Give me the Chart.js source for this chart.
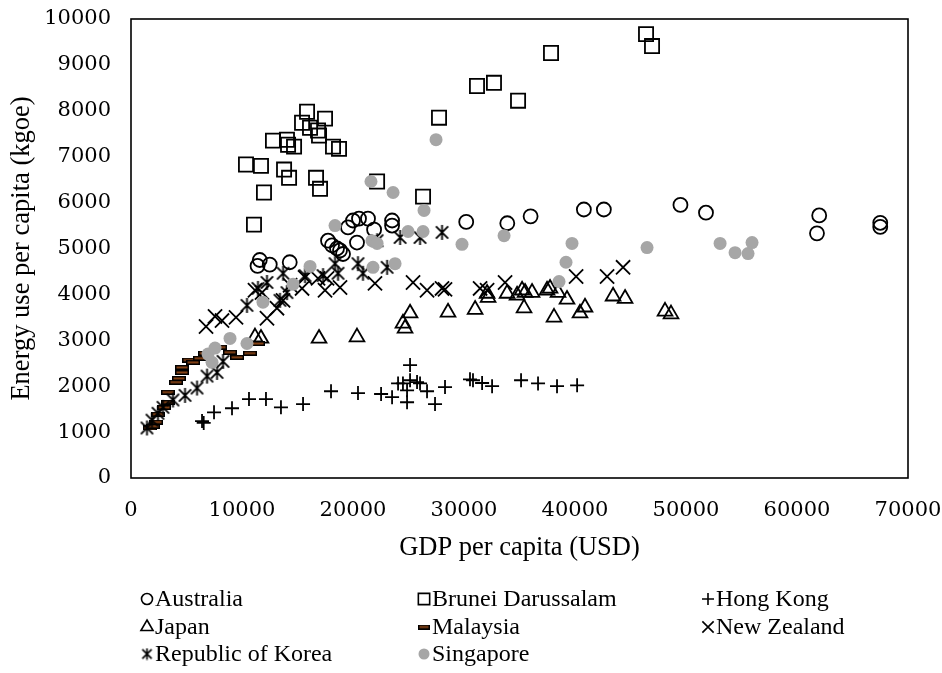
<!DOCTYPE html>
<html>
<head>
<meta charset="utf-8">
<script src="https://cdn.jsdelivr.net/npm/chart.js@4.4.0/dist/chart.umd.min.js"></script>
<style>
    html, body { margin: 0; padding: 0; background: #fff; }
</style>
</head>
<body>
<canvas id="energyChart" width="942" height="673"></canvas>
<script>
// Series names in legend order
const seriesNames = ['Australia', 'Brunei Darussalam', 'Hong Kong', 'Japan', 'Malaysia', 'New Zealand', 'Republic of Korea', 'Singapore'];

// GDP per capita (USD) / Energy use per capita (kgoe)
const australiaGdp = [11400, 11600, 12500, 14300, 17750, 18110, 18560, 18830, 19100, 20360, 19550, 20000, 20540, 21350, 21900, 23520, 23520, 30200, 33900, 36000, 40800, 42600, 49500, 51800, 62000, 61800, 67500, 67500];
const australiaEnergy = [4620, 4750, 4650, 4700, 5170, 5070, 5000, 4960, 4880, 5130, 5460, 5610, 5650, 5650, 5410, 5610, 5500, 5580, 5550, 5700, 5850, 5850, 5950, 5780, 5720, 5330, 5560, 5470];

const bruneiGdp = [10360, 11710, 11080, 11980, 12790, 14050, 14150, 14690, 13790, 14240, 15410, 15860, 16130, 16850, 16940, 17480, 16670, 17030, 18200, 18740, 22170, 26310, 27750, 31170, 32700, 34870, 37840, 46400, 46940];
const bruneiEnergy = [6830, 6800, 5520, 6220, 7350, 7370, 7260, 7220, 6720, 6540, 7740, 7980, 7630, 7570, 7460, 7830, 6540, 6300, 7220, 7170, 6460, 6130, 7850, 8540, 8610, 8220, 9260, 9670, 9410];

const hongKongGdp = [6400, 6550, 7480, 9100, 10630, 12160, 13510, 15500, 18020, 20450, 22530, 23520, 24060, 24500, 25140, 25140, 25770, 26040, 24870, 24870, 26670, 27390, 28290, 30540, 30810, 31630, 32530, 35140, 36670, 38380, 40190];
const hongKongEnergy = [1240, 1200, 1430, 1520, 1720, 1720, 1540, 1610, 1890, 1850, 1830, 1760, 2060, 2060, 2460, 2130, 2090, 2060, 1910, 1650, 1890, 1610, 1980, 2150, 2130, 2070, 2000, 2130, 2060, 2000, 2020];

const japanGdp = [11170, 11710, 16940, 20360, 24500, 24690, 25140, 28560, 31000, 32080, 32170, 33880, 34780, 35230, 35500, 36130, 35410, 37480, 37750, 38470, 39280, 38110, 40450, 40900, 43430, 44510, 48110, 48650];
const japanEnergy = [3070, 3040, 3040, 3070, 3370, 3260, 3590, 3610, 3670, 4020, 3930, 4020, 3980, 4090, 4040, 4040, 3700, 4090, 4130, 4040, 3890, 3500, 3590, 3720, 3960, 3910, 3630, 3570];

const malaysiaGdp = [1710, 1980, 2250, 2430, 2970, 3330, 3330, 4050, 4320, 4590, 4590, 5230, 5590, 6220, 6670, 8020, 8920, 9550, 10720, 11440];
const malaysiaEnergy = [1090, 1130, 1220, 1390, 1540, 1650, 1870, 2090, 2170, 2300, 2410, 2570, 2520, 2610, 2720, 2850, 2740, 2630, 2720, 2930];

const newZealandGdp = [6760, 7570, 8200, 9460, 11170, 11800, 12250, 13150, 13700, 14330, 15410, 15680, 16850, 17480, 17660, 18830, 21980, 25410, 26670, 28020, 28290, 31450, 32080, 33700, 40100, 42890, 44330];
const newZealandEnergy = [3300, 3520, 3430, 3500, 4090, 4040, 3480, 3700, 3870, 4200, 4130, 4370, 4350, 4090, 4350, 4150, 4240, 4260, 4090, 4130, 4110, 4130, 4090, 4260, 4390, 4390, 4590];

const koreaGdp = [1440, 1890, 2430, 2880, 3780, 4870, 5950, 6850, 7750, 8290, 10450, 11440, 12250, 13420, 14050, 13700, 15680, 17300, 18380, 18650, 20450, 20900, 23070, 22170, 24240, 26040, 28020];
const koreaEnergy = [1090, 1260, 1410, 1540, 1700, 1800, 1960, 2220, 2300, 2540, 3760, 4130, 4260, 3870, 4040, 4460, 4410, 4410, 4670, 4460, 4670, 4460, 4590, 5170, 5240, 5240, 5350];

const singaporeGdp = [6940, 7300, 7570, 8920, 10450, 11890, 14600, 16130, 18380, 21800, 21710, 22170, 21620, 23790, 23610, 24960, 26310, 26400, 27480, 29820, 33610, 38560, 39190, 39730, 46490, 53070, 54420, 55590, 55950];
const singaporeEnergy = [2700, 2520, 2830, 3040, 2930, 3830, 4220, 4610, 5500, 4590, 5170, 5110, 6460, 4670, 6220, 5370, 5370, 5830, 7370, 5090, 5280, 4280, 4700, 5110, 5020, 5110, 4910, 4890, 5130];

const TEXT_FONT = "'Liberation Serif', 'Times New Roman', serif";
const NUM_FONT = "'DejaVu Serif', serif";

// asterisk marker (x with a vertical bar) for Korea
function makeAsterisk(size, lw) {
    const c = document.createElement('canvas');
    c.width = size; c.height = size;
    const g = c.getContext('2d');
    const m = size / 2, a = size * 0.36, v = size * 0.44;
    g.strokeStyle = '#000';
    g.lineWidth = lw;
    g.beginPath();
    g.moveTo(m - a, m - a); g.lineTo(m + a, m + a);
    g.moveTo(m + a, m - a); g.lineTo(m - a, m + a);
    g.moveTo(m, m - v); g.lineTo(m, m + v);
    g.stroke();
    return c;
}

// short brown dash marker for Malaysia
function makeDash(w, h) {
    const c = document.createElement('canvas');
    c.width = w; c.height = h;
    const g = c.getContext('2d');
    g.fillStyle = '#000';
    g.fillRect(0, 0, w, h);
    g.fillStyle = '#8a4516';
    g.fillRect(1.5, 1.5, w - 3, h - 3);
    return c;
}

const koreaMarker = makeAsterisk(17, 1.8);
const koreaLegend = makeAsterisk(13, 1.6);
const malaysiaMarker = makeDash(14, 5);
const malaysiaLegend = makeDash(12, 5);

function toPoints(xs, ys) {
    return xs.map((x, i) => ({ x: x, y: ys[i] }));
}

const seriesData = [
    toPoints(australiaGdp, australiaEnergy),
    toPoints(bruneiGdp, bruneiEnergy),
    toPoints(hongKongGdp, hongKongEnergy),
    toPoints(japanGdp, japanEnergy),
    toPoints(malaysiaGdp, malaysiaEnergy),
    toPoints(newZealandGdp, newZealandEnergy),
    toPoints(koreaGdp, koreaEnergy),
    toPoints(singaporeGdp, singaporeEnergy)
];

const markerStyles = [
    { pointStyle: 'circle', radius: 7, fill: 'rgba(0,0,0,0)', border: '#000', legendStyle: 'circle', legendRadius: 5.5 },
    { pointStyle: 'rect', radius: 10, fill: 'rgba(0,0,0,0)', border: '#000', legendStyle: 'rect', legendRadius: 8 },
    { pointStyle: 'cross', radius: 7, fill: 'rgba(0,0,0,0)', border: '#000', legendStyle: 'cross', legendRadius: 6 },
    { pointStyle: 'triangle', radius: 8.5, fill: 'rgba(0,0,0,0)', border: '#000', legendStyle: 'triangle', legendRadius: 7 },
    { pointStyle: malaysiaMarker, radius: 7, fill: '#8a4516', border: '#000', legendStyle: malaysiaLegend, legendRadius: 6 },
    { pointStyle: 'crossRot', radius: 10, fill: 'rgba(0,0,0,0)', border: '#000', legendStyle: 'crossRot', legendRadius: 8 },
    { pointStyle: koreaMarker, radius: 8, fill: 'rgba(0,0,0,0)', border: '#000', legendStyle: koreaLegend, legendRadius: 6 },
    { pointStyle: 'circle', radius: 6.5, fill: '#a6a6a6', border: '#a6a6a6', legendStyle: 'circle', legendRadius: 5.5 }
];

const datasets = seriesNames.map((name, i) => ({
    label: name,
    data: seriesData[i],
    pointStyle: markerStyles[i].pointStyle,
    pointRadius: markerStyles[i].radius,
    pointBackgroundColor: markerStyles[i].fill,
    pointBorderColor: markerStyles[i].border,
    pointBorderWidth: i === 7 ? 0 : 1.8,
    showLine: false,
    order: seriesNames.length - i
}));

// frame around the plot area
const framePlugin = {
    id: 'frame',
    beforeDatasetsDraw(chart) {
        const { ctx, chartArea: a } = chart;
        ctx.save();
        ctx.strokeStyle = '#000';
        ctx.lineWidth = 1.6;
        ctx.strokeRect(a.left, a.top, a.right - a.left, a.bottom - a.top);
        ctx.restore();
    }
};

// legend in three fixed columns below the x axis title
const legendPlugin = {
    id: 'columnLegend',
    afterDraw(chart) {
        const ctx = chart.ctx;
        const colX = [147, 424, 708];
        const rowY = [599, 627, 654];
        const drawPoint = Chart.helpers && Chart.helpers.drawPoint;
        ctx.save();
        seriesNames.forEach((name, i) => {
            const x = colX[i % 3];
            const y = rowY[Math.floor(i / 3)];
            const st = markerStyles[i];
            ctx.fillStyle = st.fill;
            ctx.strokeStyle = st.border;
            ctx.lineWidth = 1.6;
            if (drawPoint) {
                drawPoint(ctx, { pointStyle: st.legendStyle, radius: st.legendRadius, borderWidth: i === 7 ? 0 : 1.6, rotation: 0 }, x, y);
            }
            ctx.fillStyle = '#000';
            ctx.font = '24px ' + TEXT_FONT;
            ctx.textAlign = 'left';
            ctx.textBaseline = 'middle';
            ctx.fillText(name, x + 8, y + 1);
        });
        ctx.restore();
    }
};

const tickFont = { family: NUM_FONT, size: 21 };
const titleFont = { family: TEXT_FONT, size: 26.5 };

new Chart(document.getElementById('energyChart'), {
    type: 'scatter',
    data: { datasets: datasets },
    options: {
        responsive: false,
        animation: false,
        devicePixelRatio: 1,
        layout: { padding: { left: 0, right: 34, top: 19, bottom: 109 } },
        plugins: {
            legend: { display: false },
            tooltip: { enabled: false }
        },
        scales: {
            x: {
                type: 'linear',
                min: 0,
                max: 70000,
                ticks: {
                    stepSize: 10000,
                    color: '#000',
                    font: tickFont,
                    padding: 20,
                    maxRotation: 0,
                    callback: v => String(v)
                },
                grid: { display: false, drawTicks: false },
                border: { display: false },
                title: {
                    display: true,
                    text: 'GDP per capita (USD)',
                    color: '#000',
                    font: titleFont,
                    padding: { top: 0, bottom: 0 }
                },
                afterFit: s => { s.height = 86; s.paddingLeft = 0; s.paddingRight = 0; }
            },
            y: {
                type: 'linear',
                min: 0,
                max: 10000,
                ticks: {
                    stepSize: 1000,
                    color: '#000',
                    font: tickFont,
                    padding: 20,
                    callback: v => String(v)
                },
                grid: { display: false, drawTicks: false },
                border: { display: false },
                title: {
                    display: true,
                    text: 'Energy use per capita (kgoe)',
                    color: '#000',
                    font: titleFont,
                    padding: { top: 6, bottom: 0 }
                },
                afterFit: s => { s.width = 131; s.paddingTop = 0; s.paddingBottom = 0; }
            }
        }
    },
    plugins: [framePlugin, legendPlugin]
});
</script>
</body>
</html>
